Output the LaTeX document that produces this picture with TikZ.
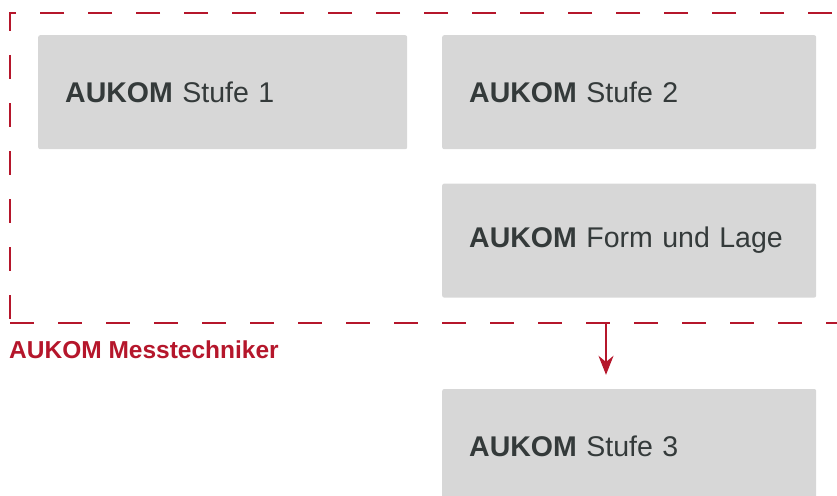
\documentclass[tikz,border=0pt]{standalone}
\usepackage{fontspec}
\setmainfont{Liberation Sans}
\usepackage{xcolor}
\usetikzlibrary{positioning,arrows.meta}

\definecolor{aukomred}{RGB}{181,22,43}
\definecolor{boxgray}{RGB}{215,215,215}
\definecolor{textgray}{RGB}{52,58,58}

\tikzset{
  course/.style={fill=boxgray, rounded corners=2pt, anchor=north west,
    minimum height=114pt, inner xsep=27pt, text width=320pt, align=left,
    text=textgray, font=\fontsize{28.5}{34}\selectfont},
  group/.style={draw=aukomred, line width=2pt, dash pattern=on 24pt off 24pt,
    anchor=north west, inner sep=0pt},
  tag/.style={text=aukomred, font=\fontsize{24.5}{29}\selectfont\bfseries, inner sep=0pt},
  flow/.style={draw=aukomred, line width=1.6pt, -{Stealth[length=19pt,width=15pt]}}
}

\begin{document}
\begin{tikzpicture}[x=1pt,y=-1pt]
\useasboundingbox (0,0) rectangle (837,495);
\clip (0,0) rectangle (837,495);

% Group frame (runs out past the right edge)
\node[group, minimum width=880pt, minimum height=310pt] (messt) at (9,12) {};
\node[tag, anchor=base west] (messtlbl) at (9,358) {AUKOM Messtechniker};

% Courses
\node[course, text width=315pt] (stufe1) at (38,35) {\textbf{AUKOM} Stufe 1};
\node[course] (stufe2) at (442,35) {\textbf{AUKOM} Stufe 2};
\node[course, below=34pt of stufe2.south west, anchor=north west] (form) {\textbf{AUKOM} Form und Lage};
\node[course, below=91pt of form.south west, anchor=north west] (stufe3) {\textbf{AUKOM} Stufe 3};

% Arrow out of the group
\coordinate (drop) at (606,0);
\draw[flow, shorten >=14pt] (messt.south -| drop) -- (stufe3.north -| drop);
\end{tikzpicture}
\end{document}
